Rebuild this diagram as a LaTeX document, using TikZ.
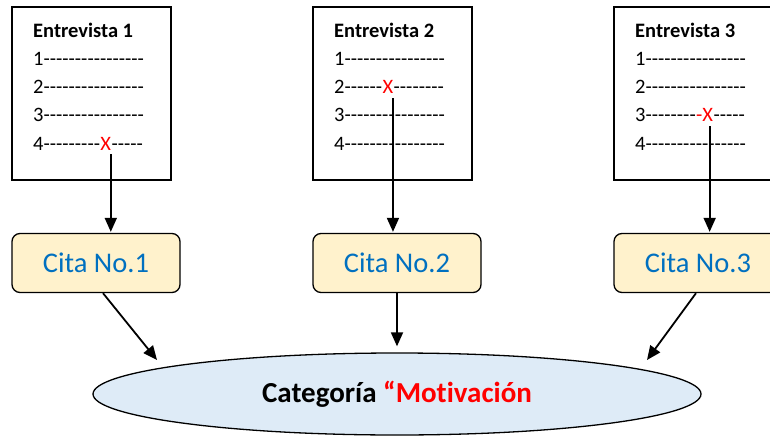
\documentclass[tikz,border=0pt]{standalone}
\usepackage{fontspec}
\setmainfont[Ligatures=NoCommon]{Carlito}
\usetikzlibrary{arrows.meta}
\usetikzlibrary{shapes.geometric}
\usetikzlibrary{calc}
\definecolor{citablue}{HTML}{0070C0}
\definecolor{citafill}{HTML}{FFF2CC}
\definecolor{catfill}{HTML}{DEEBF7}
\tikzset{>={Triangle[length=14pt,width=12pt]}}
\tikzstyle{interview}=[draw=black,line width=1.3pt,minimum width=159pt,minimum height=173pt,inner sep=0pt]
\tikzstyle{textline}=[anchor=base west,inner sep=0pt,font=\fontsize{20.5}{24}\selectfont]
\tikzstyle{mark x}=[anchor=base west,inner sep=0pt,text=red,font=\fontsize{20.5}{24}\selectfont]
\tikzstyle{cita}=[draw=black,line width=1.3pt,fill=citafill,rounded corners=8pt,
                  minimum width=168pt,minimum height=59pt,text=citablue,font=\fontsize{28.5}{32}\selectfont]
\tikzstyle{link}=[->,line width=1.8pt]

\newcommand{\dashes}[1]{\foreach \k in {1,...,#1}{-}}

\begin{document}
\begin{tikzpicture}[x=1pt,y=1pt]
  \useasboundingbox (0,0) rectangle (770,437);

  \def\step{301} % distance between columns
  \def\ybase{399} % baseline of the titles
  \def\dy{28} % line spacing

  % INTERVIEW SHEETS AND QUOTES
  \foreach \i [evaluate={\x=12+(\i-1)*\step;}] in {1,2,3}{
    \node[interview] (box\i) at (\x+79.5,343.5) {};
    \node[textline,font=\bfseries\fontsize{20.5}{24}\selectfont] (title\i) at (\x+21,\ybase) {Entrevista \i};
    \node[cita] (cita\i) at (\x+84,174) {Cita No.\i};
  }

  % PLAIN LINES OF EACH SHEET (the marked ones come below)
  \foreach \i [evaluate={\x=33+(\i-1)*\step;}] in {1,2,3}{
    \foreach \j [evaluate={\y=\ybase-\j*\dy;}] in {1,...,4}{
      \ifnum\i\j=14\relax\else\ifnum\i\j=22\relax\else\ifnum\i\j=33\relax\else
        \node[textline] (l\i\j) at (\x,\y) {\j\dashes{16}};
      \fi\fi\fi
    }
  }

  % MARKED LINES
  \node[textline] (l14) at (33,\ybase-4*\dy) {4\dashes{9}};
  \node[mark x] (x1) at (l14.base east) {X};
  \node[textline] at (x1.base east) {\dashes{5}};

  \node[textline] (l22) at (33+\step,\ybase-2*\dy) {2\dashes{6}};
  \node[mark x] (x2) at (l22.base east) {X};
  \node[textline] at (x2.base east) {\dashes{8}};

  \node[textline] (l33) at (33+2*\step,\ybase-3*\dy) {3\dashes{8}};
  \node[mark x] (x3) at (l33.base east) {-X};
  \node[textline] at (x3.base east) {\dashes{5}};

  % CATEGORY
  \node[ellipse,draw=black,line width=1.3pt,fill=catfill,minimum width=608pt,minimum height=82pt,
        inner sep=0pt,font=\bfseries\fontsize{29}{32}\selectfont] (cat) at (397,43)
        {Categoría \textcolor{red}{“Motivación}};
  \coordinate (tip1) at (157,77);
  \coordinate (tip3) at (647,77);

  % ARROWS
  \foreach \i in {1,2,3}{
    \draw[link] ([xshift=5pt,yshift=-4pt]x\i.south) -- ([xshift=5pt,yshift=1pt]x\i.south |- cita\i.north);
  }
  \draw[link] ([xshift=7pt]cita1.south) -- (tip1);
  \draw[link] (cita2.south) -- ([yshift=6pt]cita2.south |- cat.north);
  \draw[link] ([xshift=-2pt]cita3.south) -- (tip3);

\end{tikzpicture}
\end{document}
